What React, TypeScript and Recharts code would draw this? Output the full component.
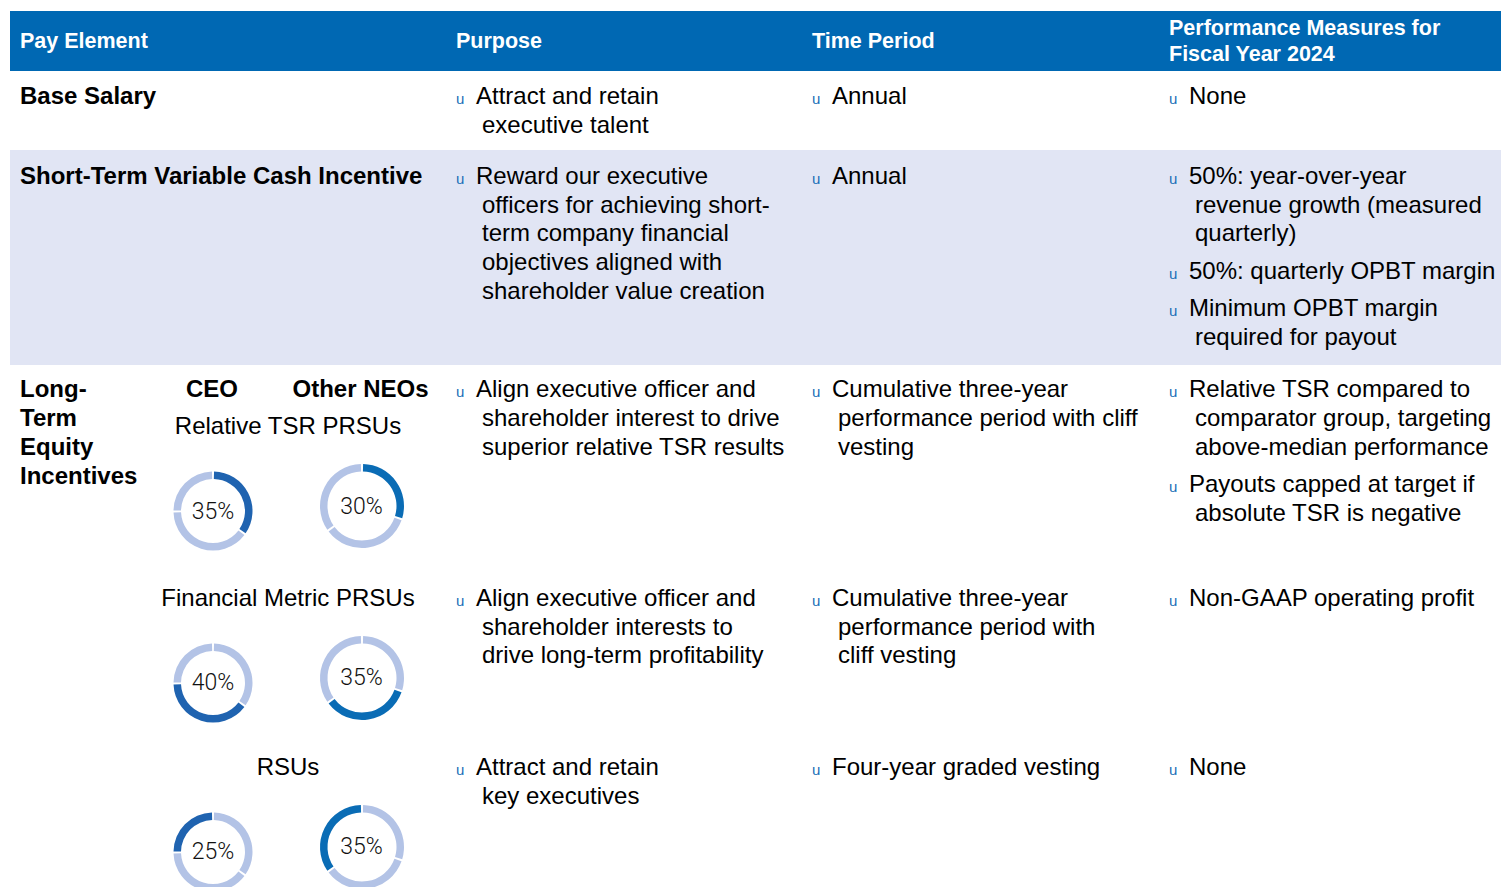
import React from 'react';
import { PieChart, Pie, Cell } from 'recharts';

// ---------- data ----------
const headers = ['Pay Element', 'Purpose', 'Time Period', 'Performance Measures for\nFiscal Year 2024'];
const payElements = ['Base Salary', 'Short-Term Variable Cash Incentive', 'Long-\nTerm\nEquity\nIncentives'];
const groupLabels = ['CEO', 'Other NEOs'];
const equityTypes = ['Relative TSR PRSUs', 'Financial Metric PRSUs', 'RSUs'];
const ceoMix = [35, 40, 25];
const neoMix = [30, 35, 35];

const purposeItems: string[][][] = [
  [['Attract and retain', 'executive talent']],
  [['Reward our executive', 'officers for achieving short-', 'term company financial', 'objectives aligned with', 'shareholder value creation']],
  [['Align executive officer and', 'shareholder interest to drive', 'superior relative TSR results']],
  [['Align executive officer and', 'shareholder interests to', 'drive long-term profitability']],
  [['Attract and retain', 'key executives']],
];
const timeItems: string[][][] = [
  [['Annual']],
  [['Annual']],
  [['Cumulative three-year', 'performance period with cliff', 'vesting']],
  [['Cumulative three-year', 'performance period with', 'cliff vesting']],
  [['Four-year graded vesting']],
];
const measureItems: string[][][] = [
  [['None']],
  [['50%: year-over-year', 'revenue growth (measured', 'quarterly)'], ['50%: quarterly OPBT margin'], ['Minimum OPBT margin', 'required for payout']],
  [['Relative TSR compared to', 'comparator group, targeting', 'above-median performance'], ['Payouts capped at target if', 'absolute TSR is negative']],
  [['Non-GAAP operating profit']],
  [['None']],
];

// ---------- layout / style ----------
const FONT = '"Liberation Sans", Arial, Helvetica, sans-serif';
const LH = 28.75;
const CAP = 14.1; // cap-centre offset from block top for 24px / LH
const rowCenters = [96, 176, 389.5, 598, 767];
const colX = [456, 812, 1169];
const BLUE = '#0068b3';
const BULLET = '#1b6fb8';
const DARK_CEO = '#1f63b0';
const DARK_NEO = '#0a6cb5';
const LIGHT = '#b3c3e6';
const PAD = 3;

const TextBlock = ({ x, cy, lines, weight = 400, size = 24, color = '#000', center = false }: any) => (
  <div
    style={{
      position: 'absolute',
      left: center ? x - 250 : x,
      width: center ? 500 : undefined,
      top: cy - CAP,
      fontSize: size,
      fontWeight: weight,
      lineHeight: `${LH}px`,
      color,
      whiteSpace: 'pre',
      textAlign: center ? 'center' : 'left',
    }}
  >
    {lines}
  </div>
);

const BulletColumn = ({ x, cy, items }: { x: number; cy: number; items: string[][] }) => {
  let top = cy - CAP;
  const out: any[] = [];
  items.forEach((lines, i) => {
    out.push(
      <div key={i} style={{ position: 'absolute', left: x, top, fontSize: 24, lineHeight: `${LH}px`, color: '#000', whiteSpace: 'pre' }}>
        {lines.map((l, j) => (
          <div key={j} style={{ paddingLeft: j === 0 ? 0 : 26, height: LH }}>
            {j === 0 && (
              <span style={{ display: 'inline-block', width: 20, fontSize: 15, lineHeight: 1, color: BULLET }}>u</span>
            )}
            {l}
          </div>
        ))}
      </div>
    );
    top += lines.length * LH + 8.5;
  });
  return <>{out}</>;
};

const Donut = ({ cx, cy, values, highlight, dark, outer, inner }: any) => {
  const data = values.map((v: number, i: number) => ({ name: equityTypes[i], value: v }));
  const start = 90 - PAD / 2;
  return (
    <div style={{ position: 'absolute', left: cx - 50, top: cy - 50, width: 100, height: 100 }}>
      <PieChart width={100} height={100} margin={{ top: 0, right: 0, bottom: 0, left: 0 }}>
        <Pie
          data={data}
          dataKey="value"
          cx="50%"
          cy="50%"
          innerRadius={inner}
          outerRadius={outer}
          startAngle={start}
          endAngle={start - 360}
          paddingAngle={PAD}
          stroke="none"
          isAnimationActive={false}
        >
          {data.map((_: any, i: number) => (
            <Cell key={i} fill={i === highlight ? dark : LIGHT} />
          ))}
        </Pie>
      </PieChart>
      <div
        style={{
          position: 'absolute',
          left: 0,
          top: 0,
          width: 100,
          height: 100,
          display: 'flex',
          alignItems: 'center',
          justifyContent: 'center',
          fontFamily: 'Roboto, "DejaVu Sans", sans-serif',
          fontWeight: 300,
          fontSize: 23,
          color: '#111',
          pointerEvents: 'none',
        }}
      >
        {values[highlight]}%
      </div>
    </div>
  );
};

export default function App() {
  const rowsAll = [0, 1, 2, 3, 4];
  return (
    <div
      style={{
        position: 'absolute',
        left: 0,
        top: 0,
        width: 1501,
        height: 887,
        overflow: 'hidden',
        background: '#fff',
        fontFamily: FONT,
      }}
    >
      {/* header band */}
      <div style={{ position: 'absolute', left: 10, top: 11, width: 1491, height: 60, background: BLUE }} />
      {/* shaded row */}
      <div style={{ position: 'absolute', left: 10, top: 150, width: 1491, height: 215, background: '#e1e5f4' }} />

      {/* header text */}
      {headers.map((h, i) => {
        const x = i === 0 ? 20 : colX[i - 1];
        const lines = h.split('\n');
        const lh = 26.7;
        const total = lines.length * lh;
        return (
          <div
            key={h}
            style={{
              position: 'absolute',
              left: x,
              top: 41 - total / 2 + 0.3,
              fontSize: 21.5,
              fontWeight: 700,
              lineHeight: `${lh}px`,
              color: '#fff',
              whiteSpace: 'pre',
            }}
          >
            {h}
          </div>
        );
      })}

      {/* pay element labels */}
      {payElements.map((p, i) => (
        <TextBlock key={p} x={20} cy={rowCenters[i]} lines={p} weight={700} />
      ))}

      {/* CEO / Other NEOs */}
      <TextBlock x={212} cy={389.5} lines={groupLabels[0]} weight={700} center />
      <TextBlock x={360.5} cy={389.5} lines={groupLabels[1]} weight={700} center />

      {/* equity sub-rows */}
      {equityTypes.map((t, i) => {
        const cy = [426.5, 598, 767][i];
        return (
          <React.Fragment key={t}>
            <TextBlock x={288} cy={cy} lines={t} center />
            <Donut cx={213} cy={cy + 84.5} values={ceoMix} highlight={i} dark={DARK_CEO} outer={39.5} inner={32} />
            <Donut cx={361.5} cy={cy + 79.5} values={neoMix} highlight={i} dark={DARK_NEO} outer={42} inner={34.5} />
          </React.Fragment>
        );
      })}

      {/* bullet columns */}
      {rowsAll.map((r) => (
        <React.Fragment key={r}>
          <BulletColumn x={colX[0]} cy={rowCenters[r]} items={purposeItems[r]} />
          <BulletColumn x={colX[1]} cy={rowCenters[r]} items={timeItems[r]} />
          <BulletColumn x={colX[2]} cy={rowCenters[r]} items={measureItems[r]} />
        </React.Fragment>
      ))}
    </div>
  );
}
